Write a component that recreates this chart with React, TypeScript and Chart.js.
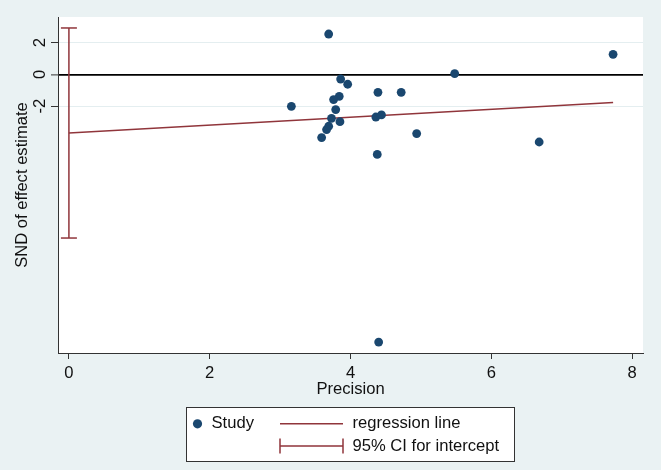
import React, { useEffect, useRef } from "react";
import { Chart, registerables } from "chart.js";

Chart.register(...registerables);

// ---- data ----
const precision = [3.69, 3.16, 3.86, 3.96, 3.84, 3.76, 3.79, 3.73, 3.85, 3.69, 3.66, 3.59, 4.39, 4.72, 4.36, 4.44, 4.94, 4.38, 5.48, 7.73, 6.68, 4.40];
const sndEffect = [2.54, -2.01, -0.29, -0.62, -1.38, -1.58, -2.21, -2.76, -2.97, -3.26, -3.47, -3.97, -1.13, -1.13, -2.68, -2.55, -3.72, -5.03, 0.05, 1.26, -4.25, -16.83];
const regressionX = [0, 7.73];
const regressionY = [-3.68, -1.77];
const interceptCI = [2.92, -10.29]; // upper, lower at precision = 0
const xTickValues = [0, 2, 4, 6, 8];
const yTickValues = [-2, 0, 2];
const xRange = [-0.155, 8.155];
const yRange = [-17.52, 3.61];
const legendLabels = ["Study", "regression line", "95% CI for intercept"];
const xTitle = "Precision";
const yTitle = "SND of effect estimate";

// ---- styles ----
const NAVY = "#1a476f";
const MAROON = "#90353b";
const BG = "#eaf2f3";
const TEXT = "#111111";
const AXIS = "#333333";
const GRID = "#e4eef0";
const FONT = '"Liberation Sans", Arial, sans-serif';
const FS = 16.6;

const decorPlugin = {
  id: "stataDecor",
  beforeDraw(chart: any) {
    const { ctx, chartArea } = chart;
    ctx.save();
    ctx.fillStyle = BG;
    ctx.fillRect(0, 0, chart.width, chart.height);
    ctx.fillStyle = "#ffffff";
    ctx.fillRect(chartArea.left, chartArea.top, chartArea.right - chartArea.left, chartArea.bottom - chartArea.top);
    ctx.restore();
  },
  afterDraw(chart: any) {
    const { ctx } = chart;
    const ys = chart.scales.y;
    ctx.save();
    ctx.font = `${FS}px ${FONT}`;
    ctx.fillStyle = TEXT;
    ctx.textAlign = "center";
    ctx.textBaseline = "middle";
    yTickValues.forEach((v) => {
      const py = ys.getPixelForValue(v);
      ctx.save();
      ctx.translate(40.2, py);
      ctx.rotate(-Math.PI / 2);
      ctx.fillText(String(v), 0, 0);
      ctx.restore();
    });
    ctx.restore();

    // legend
    ctx.save();
    ctx.fillStyle = "#ffffff";
    ctx.fillRect(186.5, 407.5, 328, 54);
    ctx.strokeStyle = AXIS;
    ctx.lineWidth = 1;
    ctx.strokeRect(186.5, 407.5, 328, 54);

    const r1 = 423.8;
    const r2 = 446.5;
    ctx.fillStyle = NAVY;
    ctx.beginPath();
    ctx.arc(197.5, r1, 4.6, 0, Math.PI * 2);
    ctx.fill();

    ctx.strokeStyle = MAROON;
    ctx.lineWidth = 1.5;
    ctx.beginPath();
    ctx.moveTo(280, r1);
    ctx.lineTo(343, r1);
    ctx.stroke();

    ctx.beginPath();
    ctx.moveTo(280, r2 - 0.5);
    ctx.lineTo(343, r2 - 0.5);
    ctx.moveTo(280, r2 - 8);
    ctx.lineTo(280, r2 + 7);
    ctx.moveTo(343, r2 - 8);
    ctx.lineTo(343, r2 + 7);
    ctx.stroke();

    ctx.fillStyle = TEXT;
    ctx.font = `${FS}px ${FONT}`;
    ctx.textAlign = "left";
    ctx.textBaseline = "middle";
    ctx.fillText(legendLabels[0], 211.5, r1);
    ctx.fillText(legendLabels[1], 352.5, r1);
    ctx.fillText(legendLabels[2], 352.5, r2);
    ctx.restore();
  },
};

export default function App() {
  const ref = useRef<HTMLCanvasElement>(null);

  useEffect(() => {
    if (!ref.current) return;
    Chart.defaults.font.family = FONT;
    const studyPoints = precision.map((x, i) => ({ x, y: sndEffect[i] }));
    const regPoints = regressionX.map((x, i) => ({ x, y: regressionY[i] }));
    const ciPoints = interceptCI.map((y) => ({ x: 0, y }));

    const chart = new Chart(ref.current, {
      type: "scatter",
      data: {
        datasets: [
          {
            label: legendLabels[0],
            data: studyPoints,
            backgroundColor: NAVY,
            borderColor: NAVY,
            pointRadius: 4.4,
            pointBorderWidth: 0,
            showLine: false,
          } as any,
          {
            type: "line",
            label: legendLabels[1],
            data: regPoints,
            borderColor: MAROON,
            borderWidth: 1.5,
            pointRadius: 0,
            fill: false,
          } as any,
          {
            type: "line",
            label: legendLabels[2],
            data: ciPoints,
            borderColor: MAROON,
            borderWidth: 1.5,
            pointStyle: "line",
            pointRadius: 8,
            pointBorderColor: MAROON,
            pointBorderWidth: 1.5,
            fill: false,
          } as any,
        ],
      },
      options: {
        responsive: false,
        animation: false,
        layout: { padding: { top: 17, right: 18, left: 0, bottom: 0 } },
        plugins: {
          legend: { display: false },
          tooltip: { enabled: false },
        },
        scales: {
          x: {
            type: "linear",
            min: xRange[0],
            max: xRange[1],
            afterBuildTicks: (s: any) => {
              s.ticks = xTickValues.map((value) => ({ value }));
            },
            afterFit: (s: any) => {
              s.height = 117;
            },
            ticks: {
              font: { size: FS, family: FONT },
              color: TEXT,
              padding: 4,
              maxRotation: 0,
              autoSkip: false,
            },
            grid: {
              drawOnChartArea: false,
              drawTicks: true,
              tickLength: 6,
              tickColor: AXIS,
              tickWidth: 1,
            },
            border: { display: true, color: AXIS, width: 1 },
            title: {
              display: true,
              text: xTitle,
              color: TEXT,
              font: { size: FS, family: FONT },
              padding: { top: 0, bottom: 70.5 },
            },
          },
          y: {
            type: "linear",
            min: yRange[0],
            max: yRange[1],
            afterBuildTicks: (s: any) => {
              s.ticks = yTickValues.map((value) => ({ value }));
            },
            afterFit: (s: any) => {
              s.width = 58;
            },
            ticks: { display: false },
            grid: {
              drawOnChartArea: true,
              drawTicks: true,
              tickLength: 7,
              tickColor: AXIS,
              tickWidth: 1,
              color: (c: any) => (c.tick && c.tick.value === 0 ? "#000000" : GRID),
              lineWidth: (c: any) => (c.tick && c.tick.value === 0 ? 1.8 : 1),
            },
            border: { display: true, color: AXIS, width: 1 },
            title: {
              display: true,
              text: yTitle,
              color: TEXT,
              font: { size: FS, family: FONT },
              padding: { top: 12.5, bottom: 0 },
            },
          },
        },
      },
      plugins: [decorPlugin],
    } as any);

    return () => chart.destroy();
  }, []);

  return (
    <div style={{ position: "fixed", left: 0, top: 0, width: 661, height: 470, background: BG }}>
      <canvas ref={ref} width={661} height={470} style={{ display: "block" }} />
    </div>
  );
}
